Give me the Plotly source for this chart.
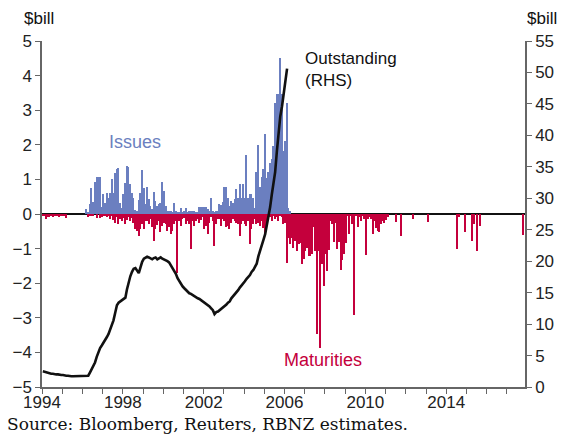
import pandas as pd
import plotly.graph_objects as go

# Monthly NZD Eurokiwi/Uridashi flows, $ billion, January 1994 onward
issues = [
    0, 0, 0, 0, 0, 0, 0, 0, 0, 0, 0, 0,                                      # 1994
    0, 0, 0, 0, 0, 0, 0, 0, 0, 0, 0, 0,                                      # 1995
    0, 0, 0.15, 0.05, 0.30, 0.76, 0.36, 0.93, 1.08, 1.08, 1.07, 0.20,         # 1996
    0.57, 0.33, 0.60, 0.47, 0.62, 1.00, 0.62, 1.19, 1.29, 1.32, 0.33, 0.18,   # 1997
    0.57, 0.90, 1.39, 1.36, 0.86, 0.62, 0.47, 0.13, 0.08, 0.40, 0.62, 1.26,   # 1998
    0.76, 0.28, 0.78, 0.42, 0.23, 0.15, 0.65, 0.38, 0.23, 0.28, 0.31, 0.92,   # 1999
    0.66, 0.23, 0.10, 0.10, 0.10, 0.05, 0.31, 0.10, 0.05, 0.05, 0.18, 0.05,   # 2000
    0.10, 0.18, 0.07, 0.10, 0.10, 0.10, 0.10, 0.03, 0.03, 0.20, 0.20, 0.20,   # 2001
    0.20, 0.20, 0.15, 0.08, 0.47, 0.08, 0.05, 0.08, 0.10, 0.30, 0.26, 0.36,   # 2002
    0.78, 0.78, 0.47, 0.23, 0.38, 0.33, 0.42, 0.71, 0.47, 0.88, 0.47, 0.88,   # 2003
    0.47, 1.70, 0.47, 0.57, 0.59, 0.47, 0.18, 1.21, 1.98, 0.78, 1.07, 1.29,   # 2004
    2.30, 1.05, 1.20, 1.48, 1.60, 1.96, 3.20, 3.46, 3.46, 4.52, 3.46, 1.82,   # 2005
    2.10, 3.20, 0.18, 0.10,                                                  # 2006
]

maturities = [
    -0.05, -0.05, -0.15, -0.08, -0.10, -0.05, -0.08, -0.06, -0.06, -0.04, -0.08, -0.04,  # 1994
    -0.06, -0.04, -0.12, 0, 0, 0, 0, 0, 0, 0, 0, 0,                                      # 1995
    0, 0, 0, -0.10, -0.05, -0.03, -0.05, 0, -0.12, 0, -0.12, -0.08,                      # 1996
    -0.05, -0.03, -0.10, -0.05, -0.15, -0.05, -0.18, -0.25, -0.10, -0.28, -0.15, -0.20,  # 1997
    -0.12, -0.30, -0.18, -0.10, -0.20, -0.12, -0.25, -0.44, -0.49, -0.64, -0.44, -0.30,  # 1998
    -0.44, -0.20, -0.20, -0.30, -0.15, -0.38, -0.78, -0.44, -0.32, -0.20, -0.51, -0.35,  # 1999
    -0.25, -0.30, -0.49, -0.38, -0.59, -0.49, -0.30, -0.20, -1.70, -0.20, -0.35, -0.15,  # 2000
    -0.12, -0.30, -0.20, -0.30, -1.02, -0.20, -0.35, -0.20, -0.15, -0.25, -0.18, -0.10,  # 2001
    -0.44, -0.35, -0.59, -0.25, -0.10, -0.20, -0.92, -0.30, -0.15, -0.15, -0.35, -0.15,  # 2002
    -0.20, -0.39, -0.35, -0.44, -0.25, -0.15, -0.20, -0.25, -0.30, -0.64, -0.30, -0.20,  # 2003
    -0.30, -0.35, -0.20, -0.88, -0.44, -0.30, -0.15, -0.30, -0.25, -0.35, -0.20, -0.40,  # 2004
    -0.54, -0.35, -0.15, -0.10, -0.20, -0.06, -0.15, -0.10, -0.20, -0.06, -0.10, -0.30,  # 2005
    -0.25, -1.41, -0.68, -0.88, -0.68, -0.97, -0.78, -1.07, -0.88, -0.83, -1.45, -1.31,  # 2006
    -1.07, -0.97, -1.21, -1.21, -1.17, -0.39, -1.07, -3.48, -1.07, -3.87, -1.45, -2.08,  # 2007
    -1.17, -1.65, -1.05, -0.20, -0.30, -0.80, -0.25, -1.02, -0.80, -1.63, -1.34, -1.17,  # 2008
    -0.83, -0.05, -0.57, -0.05, -0.28, -2.93, -0.05, -0.38, -0.10, -0.20, -0.05, -0.15,  # 2009
    -1.19, -0.15, -0.10, -0.15, -0.59, -0.20, -0.40, -0.49, -0.51, -0.30, -0.20, -0.25,  # 2010
    -0.18, -0.10, 0, 0, 0, 0, -0.22, 0, 0, -0.64, 0, 0,                                  # 2011
    0, 0, 0, 0, -0.13, 0, 0, 0, 0, 0, 0, 0,                                              # 2012
    0, -0.22, 0, 0, 0, 0, 0, 0, 0, 0, 0, 0,                                              # 2013
    0, 0, 0, 0, 0, 0, -1.02, -0.10, 0, 0, 0, -0.51,                                      # 2014
    0, 0, 0, -0.78, -0.28, 0, -1.07, 0, -0.35, 0, 0, 0,                                  # 2015
    0, 0, 0, 0, 0, 0, 0, 0, 0, 0, 0, 0,                                                  # 2016
    0, 0, 0, 0, 0, 0, 0, 0, 0, -0.60,                                                    # 2017
]

outstanding = [
    2.5, 2.4, 2.3, 2.2, 2.2, 2.1, 2.1, 2.0, 2.0, 2.0, 1.9, 1.9,              # 1994
    1.9, 1.8, 1.8, 1.8, 1.7, 1.7, 1.7, 1.7, 1.7, 1.7, 1.7, 1.7,              # 1995
    1.7, 1.7, 1.8, 1.8, 2.3, 2.8, 3.3, 3.9, 4.8, 5.6, 6.2, 6.6,              # 1996
    7.0, 7.4, 7.9, 8.4, 9.1, 9.8, 10.6, 11.8, 13.0, 13.4, 13.6, 13.8,        # 1997
    13.9, 14.2, 15.5, 16.8, 17.6, 18.3, 18.8, 18.9, 18.4, 18.1, 19.0, 19.9,  # 1998
    20.4, 20.6, 20.7, 20.6, 20.5, 20.3, 20.5, 20.6, 20.3, 20.4, 20.6, 20.4,  # 1999
    20.3, 20.2, 20.0, 19.8, 19.4, 19.0, 18.6, 18.0, 17.3, 16.8, 16.4, 16.0,  # 2000
    15.7, 15.4, 15.1, 14.9, 14.8, 14.6, 14.5, 14.3, 14.1, 14.0, 13.8, 13.7,  # 2001
    13.5, 13.3, 13.0, 12.8, 12.5, 12.2, 11.6, 11.9, 12.0, 12.2, 12.5, 12.6,  # 2002
    12.9, 13.1, 13.4, 13.6, 14.1, 14.4, 14.7, 15.1, 15.4, 15.8, 16.1, 16.5,  # 2003
    16.8, 17.2, 17.5, 17.8, 18.3, 18.6, 19.1, 19.6, 20.8, 21.8, 22.6, 23.4,  # 2004
    24.3, 25.6, 26.8, 28.6, 30.6, 32.5, 34.2, 37.5, 40.8, 43.0, 44.6, 46.6,  # 2005
    48.5, 50.6,                                                              # 2006
]

year_ticks = list(range(1994, 2018))
labelled_years = [1994, 1998, 2002, 2006, 2010, 2014]

BLUE = "#6b7fc0"
RED = "#c4003c"
SANS = "Liberation Sans Narrow, Liberation Sans, sans-serif"
TICK_FONT = dict(family=SANS, size=17, color="#222222")


def month_mid(n):
    return pd.date_range("1994-01-01", periods=n, freq="MS") + pd.Timedelta(days=15)


bar_width = 26 * 24 * 3600 * 1000

fig = go.Figure()
fig.add_trace(go.Bar(x=month_mid(len(maturities)), y=maturities, width=bar_width,
                     marker=dict(color=RED, line=dict(width=0)), name="Maturities"))
fig.add_trace(go.Bar(x=month_mid(len(issues)), y=issues, width=bar_width,
                     marker=dict(color=BLUE, line=dict(width=0)), name="Issues"))
fig.add_trace(go.Scatter(x=month_mid(len(outstanding)), y=outstanding, yaxis="y2",
                         mode="lines", line=dict(color="#111111", width=2.6),
                         name="Outstanding"))


def label(text, x, y, color="#111111", size=17, xanchor="center", family=SANS):
    return dict(text=text, xref="paper", yref="paper", x=x, y=y,
                xanchor=xanchor, yanchor="middle", align="left", showarrow=False,
                font=dict(family=family, size=size, color=color))


fig.update_layout(
    width=566, height=438,
    margin=dict(l=38, r=38, t=41, b=51),
    paper_bgcolor="white", plot_bgcolor="white",
    barmode="overlay", bargap=0,
    showlegend=False,
    xaxis=dict(
        type="date",
        range=["1994-01-01", "2017-11-25"],
        tickvals=[f"{y}-01-01" for y in year_ticks],
        ticktext=[str(y) if y in labelled_years else "" for y in year_ticks],
        ticks="outside", ticklen=5, tickcolor="#666666", tickwidth=1,
        ticklabelstandoff=-6,
        showline=True, linecolor="#666666", linewidth=1.5,
        showgrid=False, zeroline=False,
        tickfont=TICK_FONT,
    ),
    yaxis=dict(
        range=[-5, 5], dtick=1,
        ticks="outside", ticklen=5, tickcolor="#666666",
        showline=True, linecolor="#666666", linewidth=1.5,
        showgrid=False,
        zeroline=True, zerolinecolor="#111111", zerolinewidth=1.5,
        tickfont=TICK_FONT,
    ),
    yaxis2=dict(
        range=[0, 55], dtick=5, overlaying="y", side="right",
        ticks="outside", ticklen=5, tickcolor="#666666",
        showline=True, linecolor="#666666", linewidth=1.5,
        showgrid=False, zeroline=False,
        tickfont=TICK_FONT,
    ),
    annotations=[
        label("$bill", -0.006, 1.066),
        label("$bill", 1.035, 1.066),
        label("Issues", 0.192, 0.708, color=BLUE, size=18),
        label("Outstanding<br>(RHS)", 0.541, 0.919, xanchor="left"),
        label("Maturities", 0.582, 0.078, color=RED, size=18),
        label("Source: Bloomberg, Reuters, RBNZ estimates.", -0.076, -0.107,
              xanchor="left", size=17, family="DejaVu Serif, serif"),
    ],
)

fig.write_html("out.html")
